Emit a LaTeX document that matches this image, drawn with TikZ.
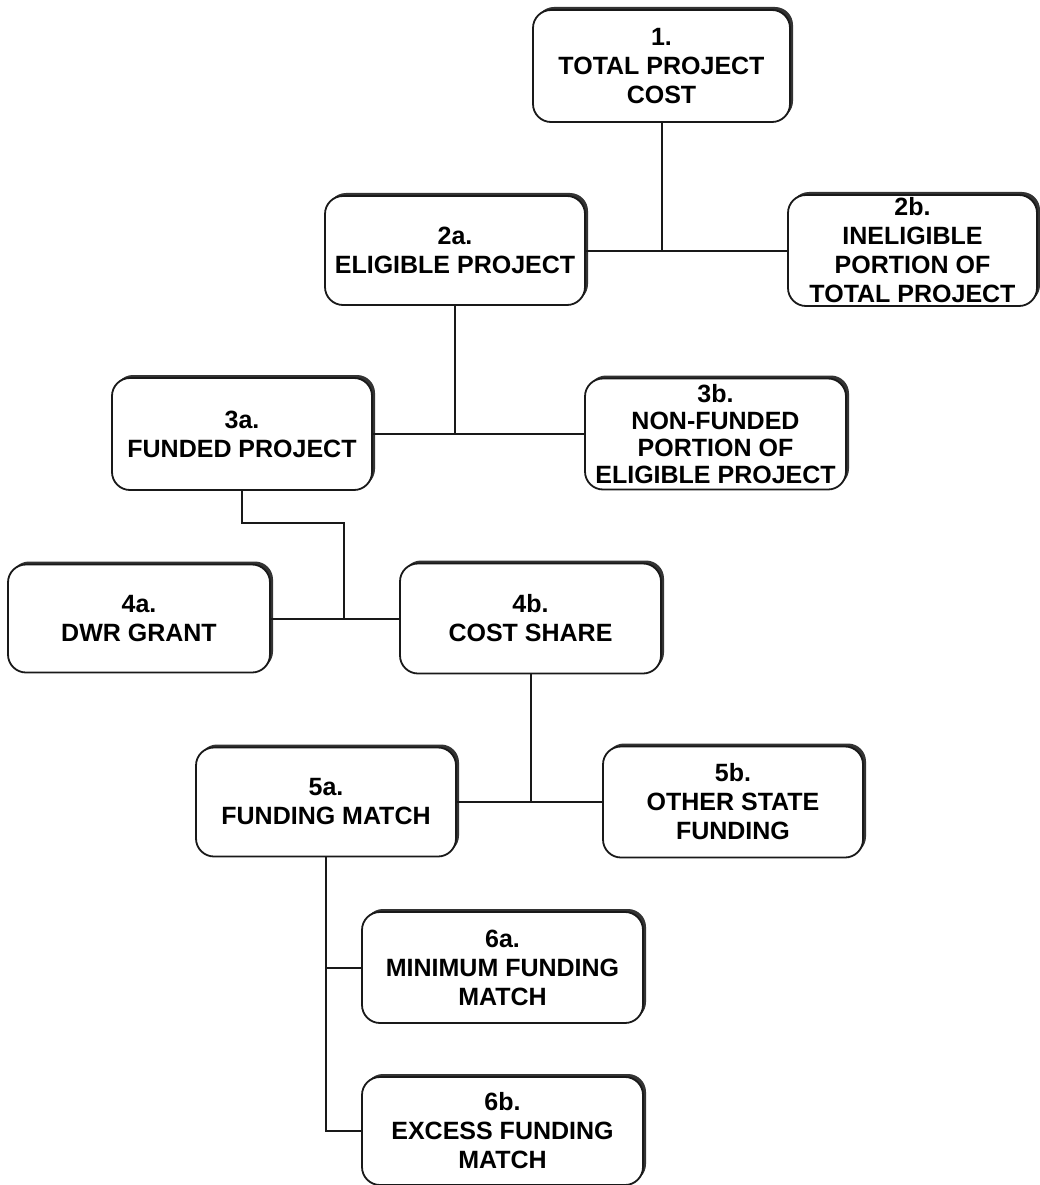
\documentclass[tikz,border=0pt]{standalone}
\usepackage{fontspec}
\setmainfont{Liberation Sans}
\usetikzlibrary{shadows}
\tikzset{
  x=1pt,y=-1pt,
  box/.style={rectangle, rounded corners=18pt, draw=black!90, line width=1.8pt, fill=white,
    align=center, inner sep=0pt,
    font=\fontsize{25}{29}\selectfont\bfseries,
    general shadow={shadow xshift=3pt, shadow yshift=3pt, fill=black!80}},
  tight/.style={font=\fontsize{25}{27}\selectfont\bfseries},
  link/.style={draw=black!90, line width=2pt}
}
\begin{document}
\begin{tikzpicture}
\useasboundingbox (0,0) rectangle (1040,1185);
\node[box, minimum width=257pt, minimum height=112pt] (n1) at (661.5,66) {1.\\TOTAL PROJECT\\COST};
\node[box, minimum width=260pt, minimum height=109pt] (n2a) at (455,250.5) {2a.\\ELIGIBLE PROJECT};
\node[box, minimum width=249pt, minimum height=111pt] (n2b) at (912.5,250.5) {2b.\\INELIGIBLE\\PORTION OF\\TOTAL PROJECT};
\node[box, minimum width=260pt, minimum height=112pt] (n3a) at (242,434) {3a.\\FUNDED PROJECT};
\node[box, tight, minimum width=261pt, minimum height=111pt] (n3b) at (715.5,434) {3b.\\NON-FUNDED\\PORTION OF\\ELIGIBLE PROJECT};
\node[box, minimum width=262pt, minimum height=108pt] (n4a) at (139,618.5) {4a.\\DWR GRANT};
\node[box, minimum width=261pt, minimum height=110pt] (n4b) at (530.5,618.5) {4b.\\COST SHARE};
\node[box, minimum width=260pt, minimum height=109pt] (n5a) at (326,802) {5a.\\FUNDING MATCH};
\node[box, minimum width=260pt, minimum height=111pt] (n5b) at (733,802) {5b.\\OTHER STATE\\FUNDING};
\node[box, minimum width=281pt, minimum height=111pt] (n6a) at (502.5,967.5) {6a.\\MINIMUM FUNDING\\MATCH};
\node[box, minimum width=281pt, minimum height=108pt] (n6b) at (502.5,1131) {6b.\\EXCESS FUNDING\\MATCH};
\coordinate (j3) at (344,523);
% connectors
\draw[link] (n1.south) -- (n1.south |- n2a.east);
\draw[link] (n2a.east) -- (n2a.east -| n2b.west);
\draw[link] (n2a.south) -- (n2a.south |- n3a.east);
\draw[link] (n3a.east) -- (n3a.east -| n3b.west);
\draw[link] (n3a.south) |- (j3) -- (j3 |- n4a.east);
\draw[link] (n4a.east) -- (n4a.east -| n4b.west);
\draw[link] (n4b.south) -- (n4b.south |- n5a.east);
\draw[link] (n5a.east) -- (n5a.east -| n5b.west);
\draw[link] (n5a.south) |- (n6b.west);
\draw[link] (n5a.south |- n6a.west) -- (n6a.west);
\end{tikzpicture}
\end{document}
